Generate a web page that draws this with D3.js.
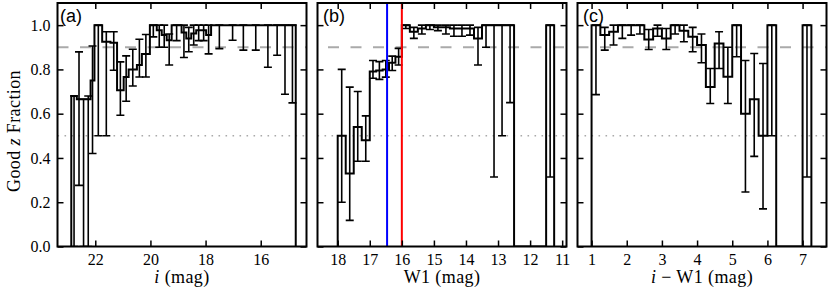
<!DOCTYPE html>
<html>
<head>
<meta charset="utf-8">
<script src="https://cdn.jsdelivr.net/npm/d3@7"></script>
<style>
  body { margin: 0; background-color: #ffffff; }
  svg text { font-family: "Liberation Serif", "DejaVu Serif", serif; fill: #000; }
  .tick text { font-size: 16px; }
  .label { font-size: 18px; letter-spacing: 0.4px; }
  .tag { font-family: "Liberation Sans", Arial, sans-serif !important; font-size: 18px; }
</style>
</head>
<body>
<script>
// panel (a): good-z fraction vs i magnitude
var aEdges = [22.87, 22.67, 22.51, 22.34, 22.17, 22.03, 21.75, 21.45, 21.21, 20.97, 20.79, 20.49, 20.31, 20.02, 19.77, 19.59, 19.41, 19.23, 18.87, 18.70, 18.52, 18.34, 18.16, 17.98, 17.80, 17.20, 16.84, 16.42, 15.94, 15.54, 15.27, 14.97, 14.73];
var aFrac = [0.68, 0.665, 0.665, 0.665, 0.75, 1.0, 0.925, 0.92, 0.706, 0.766, 0.80, 0.82, 0.87, 1.0, 0.977, 0.955, 0.932, 1.0, 0.967, 0.94, 0.962, 0.977, 0.977, 0.955, 1, 1, 1, 1, 1, 1, 1, 1];
var aLo = [0, 0.276, 0, 0, 0.42, 0.5, 0.5, 0.796, 0.593, 0.656, 0.725, 0.766, 0.766, 0.947, 0.9, 0.9, 0.82, 0.93, 0.854, 0.88, 0.91, 0.93, 0.93, 0.87, 0.894, 0.932, 0.887, 0.887, 0.81, 0.864, 0.688, 0.649];
var aHi = [0.68, 0.879, 0.665, 0.68, 0.906, 1.0, 0.97, 0.97, 0.834, 0.861, 0.891, 0.936, 0.958, 1, 1, 1, 0.96, 1, 1, 0.99, 1, 1, 1, 1, 1, 1, 1, 1, 1, 1, 1, 1];
var aTicks = [22, 20, 18, 16];

// panel (b): vs W1 magnitude (null = empty bin)
var bEdges = [18.0, 17.75, 17.5, 17.25, 17.0, 16.8, 16.6, 16.4, 16.2, 16.0, 15.75, 15.5, 15.25, 15.0, 14.75, 14.5, 14.25, 14.0, 13.75, 13.5, 13.25, 13.0, 12.75, 12.5, 11.5, 11.25];
var bFrac = [0.5, 0.33, 0.54, 0.48, 0.79, 0.795, 0.80, 0.83, 0.857, 1.0, 0.97, 0.985, 1.0, 0.99, 0.99, 0.985, 0.985, 0.985, 0.94, 1, 1, 1, 1, null, 1];
var bLo = [0.2, 0.118, 0.385, 0.385, 0.76, 0.755, 0.765, 0.795, 0.82, 0.985, 0.94, 0.96, 0.98, 0.975, 0.96, 0.95, 0.95, 0.955, 0.82, 0.9, 0.314, 0.5, 0.65, null, 0.314];
var bHi = [0.8, 0.72, 0.70, 0.59, 0.84, 0.835, 0.84, 0.86, 0.895, 1, 0.99, 1, 1, 1, 1, 1, 1, 1, 0.99, 1, 1, 1, 1, null, 1];
var bTicks = [18, 17, 16, 15, 14, 13, 12, 11];
var bBlue = 16.46, bRed = 16.0;

// panel (c): vs i - W1 colour
var cEdges = [1.0, 1.25, 1.5, 1.75, 2.0, 2.25, 2.5, 2.75, 3.0, 3.25, 3.5, 3.75, 4.0, 4.25, 4.5, 4.75, 5.0, 5.25, 5.5, 5.75, 6.0, 6.25, 7.0, 7.25];
var cFrac = [1.0, 0.955, 0.97, 1.0, 1.0, 1.0, 0.935, 0.985, 0.94, 1.0, 0.975, 0.947, 0.91, 0.72, 0.917, 0.767, 1.0, 0.6, 0.665, 0.5, 1.0, null, 1.0];
var cLo = [0.686, 0.887, 0.91, 0.94, 0.955, 0.96, 0.89, 0.95, 0.89, 0.96, 0.925, 0.88, 0.83, 0.646, 0.804, 0.646, 0.857, 0.246, 0.407, 0.17, 0.5, null, 0.314];
var cHi = [1, 0.99, 1, 1, 1, 1, 0.98, 1, 0.985, 1, 1, 0.99, 0.96, 0.804, 0.97, 0.9, 1, 0.84, 0.872, 0.827, 1, null, 1];
var cTicks = [1, 2, 3, 4, 5, 6, 7];

var yTicks = [0, 0.2, 0.4, 0.6, 0.8, 1.0];
var dashedLevel = 0.9, dottedLevel = 0.5;

var svg = d3.select('body').append('svg').attr('width', 830).attr('height', 294);
var plotTop = 3, plotBottom = 246.5, panelW = 249;
var y = d3.scaleLinear().domain([0, 1.1]).range([plotBottom, plotTop]);

var panels = [
  {name: 'a', left: 57.5, xDomain: [23.37, 14.34], ticks: aTicks, edges: aEdges, frac: aFrac, lo: aLo, hi: aHi, tagX: 60, dashOff: 0},
  {name: 'b', left: 317.5, xDomain: [18.63, 10.865], ticks: bTicks, edges: bEdges, frac: bFrac, lo: bLo, hi: bHi, tagX: 323, dashOff: 12},
  {name: 'c', left: 577.5, xDomain: [0.6, 7.68], ticks: cTicks, edges: cEdges, frac: cFrac, lo: cLo, hi: cHi, tagX: 583, dashOff: 0}
];

panels.forEach(function(p, k) {
  var right = p.left + panelW;
  var x = d3.scaleLinear().domain(p.xDomain).range([p.left, right]);
  var g = svg.append('g');

  g.append('clipPath').attr('id', 'clip-' + p.name)
    .append('rect').attr('x', p.left).attr('y', plotTop).attr('width', panelW).attr('height', plotBottom - plotTop);
  var inner = g.append('g').attr('clip-path', 'url(#clip-' + p.name + ')');

  // reference levels
  inner.append('line')
    .attr('x1', p.left).attr('x2', right).attr('y1', y(dashedLevel)).attr('y2', y(dashedLevel))
    .attr('stroke', '#aaaaaa').attr('stroke-width', 2)
    .attr('stroke-dasharray', '11,11.5').attr('stroke-dashoffset', p.dashOff);
  inner.append('line')
    .attr('x1', p.left).attr('x2', right).attr('y1', y(dottedLevel)).attr('y2', y(dottedLevel))
    .attr('stroke', '#aaaaaa').attr('stroke-width', 1.6)
    .attr('stroke-dasharray', '1.6,5.4');

  // step outline of the histogram
  var pts = [[p.edges[0], 0]];
  p.frac.forEach(function(v, i) {
    var f = v == null ? 0 : v;
    pts.push([p.edges[i], f], [p.edges[i + 1], f]);
  });
  pts.push([p.edges[p.edges.length - 1], 0]);
  inner.append('path').datum(pts)
    .attr('d', d3.line().x(function(d) { return x(d[0]); }).y(function(d) { return y(d[1]); }))
    .attr('fill', 'none').attr('stroke', '#000').attr('stroke-width', 2)
    .attr('stroke-linejoin', 'miter');

  // error bars at bin centres
  var bins = p.frac.map(function(v, i) {
    return {c: (p.edges[i] + p.edges[i + 1]) / 2, v: v, lo: p.lo[i], hi: p.hi[i]};
  }).filter(function(d) { return d.v != null; });

  var eb = inner.selectAll('.err').data(bins).enter().append('g').attr('class', 'err')
    .attr('stroke', '#000').attr('stroke-width', 1.6);
  eb.append('line')
    .attr('x1', function(d) { return x(d.c); }).attr('x2', function(d) { return x(d.c); })
    .attr('y1', function(d) { return y(d.lo); }).attr('y2', function(d) { return y(d.hi); });
  eb.append('line')
    .attr('x1', function(d) { return x(d.c) - 4; }).attr('x2', function(d) { return x(d.c) + 4; })
    .attr('y1', function(d) { return y(d.lo); }).attr('y2', function(d) { return y(d.lo); });
  eb.append('line')
    .attr('x1', function(d) { return x(d.c) - 4; }).attr('x2', function(d) { return x(d.c) + 4; })
    .attr('y1', function(d) { return y(d.hi); }).attr('y2', function(d) { return y(d.hi); });

  if (p.name == 'b') {
    inner.append('line').attr('x1', x(bBlue)).attr('x2', x(bBlue)).attr('y1', plotTop).attr('y2', plotBottom)
      .attr('stroke', '#0000ff').attr('stroke-width', 2);
    inner.append('line').attr('x1', x(bRed)).attr('x2', x(bRed)).attr('y1', plotTop).attr('y2', plotBottom)
      .attr('stroke', '#ff0000').attr('stroke-width', 2);
  }

  // axes: ticks inside on all four sides
  var axes = [
    g.append('g').attr('transform', 'translate(0,' + plotBottom + ')')
      .call(d3.axisBottom(x).tickValues(p.ticks).tickSize(-6).tickPadding(7).tickFormat(d3.format('d'))),
    g.append('g').attr('transform', 'translate(0,' + plotTop + ')')
      .call(d3.axisTop(x).tickValues(p.ticks).tickSize(-6).tickFormat('')),
    g.append('g').attr('transform', 'translate(' + p.left + ',0)')
      .call(d3.axisLeft(y).tickValues(yTicks).tickSize(-6).tickPadding(7)
        .tickFormat(k == 0 ? d3.format('.1f') : function() { return ''; })),
    g.append('g').attr('transform', 'translate(' + right + ',0)')
      .call(d3.axisRight(y).tickValues(yTicks).tickSize(-6).tickFormat(''))
  ];
  axes.forEach(function(a) {
    a.attr('font-family', null).attr('font-size', null);
    a.select('.domain').remove();
    a.selectAll('.tick line').attr('stroke-width', 1.5);
  });

  // frame
  g.append('rect').attr('x', p.left).attr('y', plotTop).attr('width', panelW).attr('height', plotBottom - plotTop)
    .attr('fill', 'none').attr('stroke', '#000').attr('stroke-width', 2);

  g.append('text').attr('class', 'tag').attr('x', p.tagX).attr('y', 22).text('(' + p.name + ')');
});

// axis titles
var xl = svg.append('text').attr('class', 'label').attr('x', 57.5 + panelW / 2).attr('y', 283).attr('text-anchor', 'middle');
xl.append('tspan').attr('font-style', 'italic').text('i');
xl.append('tspan').text(' (mag)');

svg.append('text').attr('class', 'label').attr('x', 317.5 + panelW / 2).attr('y', 283).attr('text-anchor', 'middle').text('W1 (mag)');

var cl = svg.append('text').attr('class', 'label').attr('x', 577.5 + panelW / 2).attr('y', 283).attr('text-anchor', 'middle');
cl.append('tspan').attr('font-style', 'italic').text('i');
cl.append('tspan').text(' \u2212 W1 (mag)');

var yl = svg.append('text').attr('class', 'label').attr('text-anchor', 'middle')
  .attr('transform', 'translate(20,131) rotate(-90)');
yl.append('tspan').text('Good ');
yl.append('tspan').attr('font-style', 'italic').text('z');
yl.append('tspan').text(' Fraction');
</script>
</body>
</html>
